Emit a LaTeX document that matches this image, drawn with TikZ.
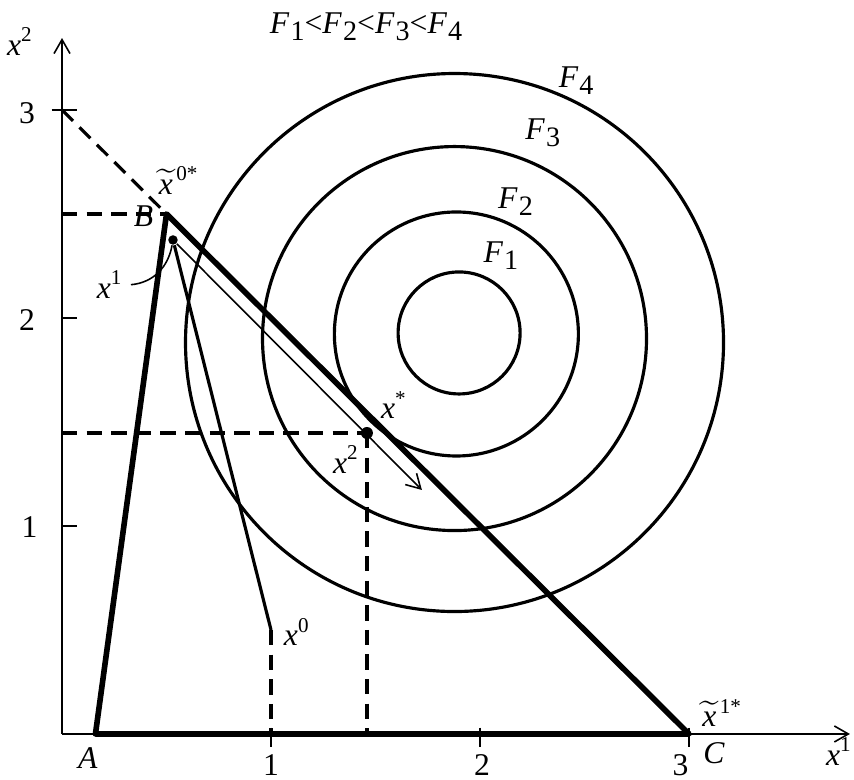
\documentclass[tikz,border=0pt]{standalone}
\usepackage{fontspec}
\setmainfont{Liberation Serif}
\usetikzlibrary{arrows.meta}
\definecolor{cink}{HTML}{000000}
\tikzset{
  >={Straight Barb[length=1.4mm,width=1.6mm]},
  axis/.style={line width=0.45pt,cink},
  tri/.style={line width=1.6pt,cink,line join=round},
  lvl/.style={line width=0.9pt,cink},
  guide/.style={line width=0.45pt,cink},
  aux/.style={line width=0.9pt,cink,dash pattern=on 4.4pt off 2.6pt},
  lbl/.style={inner sep=0pt},
  pt/.style={circle,fill=cink,inner sep=0pt,minimum size=#1},
}
\newcommand{\vx}[1]{\textit{x}\textsuperscript{#1}}
\newcommand{\vf}[1]{\textit{F}\kern0.3pt\raisebox{-0.5ex}{\footnotesize #1}}
\newcommand{\tx}[1]{$\widetilde{\mathit{x}}$\kern1pt\textsuperscript{#1}}

\begin{document}
\begin{tikzpicture}[x=2.09cm,y=2.08cm,font=\fontsize{9}{11}\selectfont]
\useasboundingbox (-0.2967,-0.2212) rectangle (3.7895,3.5288);

% ================= points =================
\coordinate (O) at (0,0);
\coordinate (xend) at (3.77,0);
\coordinate (yend) at (0,3.346);
\coordinate (A) at (0.16,0);
\coordinate (B) at (0.5,2.5);
\coordinate (C) at (3,0);
\coordinate (X0) at (1,0.5);
\coordinate (X1) at (0.531,2.375);
\coordinate (Xs) at (1.459,1.447);
\coordinate (Xe) at (1.722,1.173);
\coordinate (Y3) at (0,3);
\coordinate (Y25) at (0,2.5);
\coordinate (Xsy) at (0,1.447);
\coordinate (Xsx) at (1.459,0);
\coordinate (X0x) at (1,0);

% ================= level curves =================
\foreach \cx/\cy/\r in {1.900/1.928/0.61, 1.887/1.923/1.22, 1.878/1.901/1.92, 1.878/1.882/2.69}
  \draw[lvl] (\cx,\cy) circle[radius=\r cm];

% ================= axes =================
\draw[axis,->] (O) -- (xend);
\draw[axis,->] (O) -- (yend);
\foreach \k in {1,2,3} \draw[axis] (\k,0.03) -- (\k,-0.065);
\foreach \k in {1,2} \draw[axis] (0,\k) -- (0.07,\k);
\draw[axis] (-0.05,3) -- (0.07,3);

% ================= dashed helpers =================
\draw[aux] (Y3) -- (B);
\draw[aux] (Y25) -- (B);
\draw[aux] (Xsy) -- (Xs);
\draw[aux] (Xs) -- (Xsx);
\draw[aux] (X0) -- (X0x);

% ================= feasible set =================
\draw[tri] (A) -- (B) -- (C) -- cycle;

% ================= iterations =================
\node[pt=0.95mm] (x1dot) at (X1) {};
\node[pt=1.2mm] (xsdot) at (Xs) {};
\draw[lvl] (X0) -- (x1dot);
\draw[guide,->] (x1dot) -- (Xe);

% ================= labels =================
\node[lbl] (ttl) at (1.455,3.40) {\vf{1}<\vf{2}<\vf{3}<\vf{4}};
\node[lbl] (ly) at (-0.2,3.33) {\vx{2}};
\node[lbl,anchor=east] (lx) at (3.785,-0.085) {\vx{1}};
\node[lbl] (ly3) at (-0.167,2.985) {3};
\node[lbl] (ly2) at (-0.167,1.99) {2};
\node[lbl] (ly1) at (-0.155,0.995) {1};
\node[lbl] (lx1) at (1,-0.15) {1};
\node[lbl] (lx2) at (2.01,-0.15) {2};
\node[lbl] (lx3) at (2.96,-0.15) {3};
\node[lbl] (lA) at (0.124,-0.115) {\textit{A}};
\node[lbl] (lB) at (0.39,2.49) {\textit{B}};
\node[lbl] (lC) at (3.12,-0.09) {\textit{C}};
\node[lbl] (lt0) at (0.56,2.66) {\tx{0*}};
\node[lbl] (lt1) at (3.16,0.10) {\tx{1*}};
\node[lbl] (lF4) at (2.46,3.14) {\vf{4}};
\node[lbl] (lF3) at (2.30,2.89) {\vf{3}};
\node[lbl] (lF2) at (2.17,2.56) {\vf{2}};
\node[lbl] (lF1) at (2.10,2.30) {\vf{1}};
\node[lbl] (lx0) at (1.125,0.49) {\vx{0}};
\node[lbl] (lxs) at (1.59,1.58) {\vx{*}};
\node[lbl] (lx2p) at (1.36,1.32) {\vx{2}};
\node[lbl] (lx1p) at (0.23,2.16) {\vx{1}};
\draw[guide] ([xshift=2pt]lx1p.east) to[out=5,in=-100] (x1dot);

\end{tikzpicture}
\end{document}
